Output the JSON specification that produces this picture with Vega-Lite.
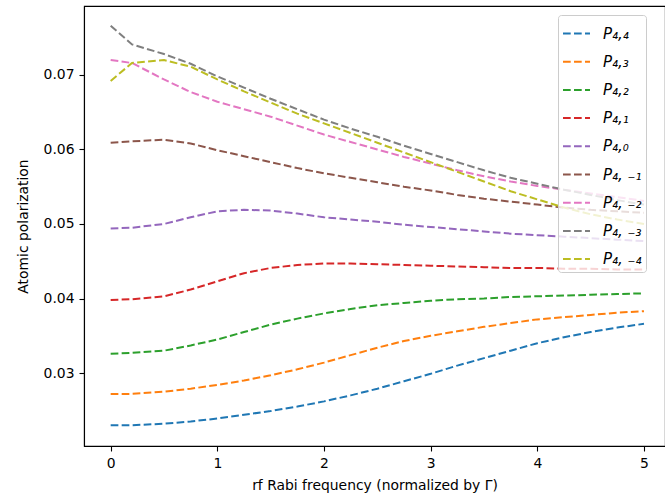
{
  "$schema": "https://vega.github.io/schema/vega-lite/v6.json",
  "width": 581,
  "height": 440,
  "autosize": {"type": "none"},
  "padding": {"left": 84, "top": 6, "right": 0, "bottom": 53},
  "background": "white",
  "config": {
    "font": "DejaVu Sans",
    "view": {"stroke": "black", "strokeWidth": 1.1},
    "axis": {
      "domainColor": "black", "domainWidth": 1.1, "tickColor": "black", "tickWidth": 1.1, "tickSize": 5,
      "labelFont": "DejaVu Sans", "labelFontSize": 13.9, "labelColor": "black", "labelPadding": 5,
      "titleFont": "DejaVu Sans", "titleFontSize": 13.9, "titleFontWeight": "normal", "titleColor": "black",
      "grid": false
    }
  },
  "data": {"values": [
    {"s":"P₄,₄","x":0,"y":0.0230},{"s":"P₄,₄","x":0.2,"y":0.0230},{"s":"P₄,₄","x":0.5,"y":0.0232},{"s":"P₄,₄","x":0.75,"y":0.0235},{"s":"P₄,₄","x":1,"y":0.0239},{"s":"P₄,₄","x":1.25,"y":0.0244},{"s":"P₄,₄","x":1.5,"y":0.0249},{"s":"P₄,₄","x":1.75,"y":0.0255},{"s":"P₄,₄","x":2,"y":0.0262},{"s":"P₄,₄","x":2.25,"y":0.0270},{"s":"P₄,₄","x":2.5,"y":0.0279},{"s":"P₄,₄","x":2.75,"y":0.0289},{"s":"P₄,₄","x":3,"y":0.0299},{"s":"P₄,₄","x":3.25,"y":0.0310},{"s":"P₄,₄","x":3.5,"y":0.0320},{"s":"P₄,₄","x":3.75,"y":0.0330},{"s":"P₄,₄","x":4,"y":0.0340},{"s":"P₄,₄","x":4.25,"y":0.0348},{"s":"P₄,₄","x":4.5,"y":0.0355},{"s":"P₄,₄","x":4.75,"y":0.0361},{"s":"P₄,₄","x":5,"y":0.0366},
    {"s":"P₄,₃","x":0,"y":0.0272},{"s":"P₄,₃","x":0.2,"y":0.0272},{"s":"P₄,₃","x":0.5,"y":0.0275},{"s":"P₄,₃","x":0.75,"y":0.0279},{"s":"P₄,₃","x":1,"y":0.0284},{"s":"P₄,₃","x":1.25,"y":0.0290},{"s":"P₄,₃","x":1.5,"y":0.0297},{"s":"P₄,₃","x":1.75,"y":0.0305},{"s":"P₄,₃","x":2,"y":0.0314},{"s":"P₄,₃","x":2.25,"y":0.0324},{"s":"P₄,₃","x":2.5,"y":0.0334},{"s":"P₄,₃","x":2.75,"y":0.0343},{"s":"P₄,₃","x":3,"y":0.0350},{"s":"P₄,₃","x":3.25,"y":0.0356},{"s":"P₄,₃","x":3.5,"y":0.0362},{"s":"P₄,₃","x":3.75,"y":0.0367},{"s":"P₄,₃","x":4,"y":0.0372},{"s":"P₄,₃","x":4.25,"y":0.0375},{"s":"P₄,₃","x":4.5,"y":0.0378},{"s":"P₄,₃","x":4.75,"y":0.0381},{"s":"P₄,₃","x":5,"y":0.0383},
    {"s":"P₄,₂","x":0,"y":0.0326},{"s":"P₄,₂","x":0.2,"y":0.0327},{"s":"P₄,₂","x":0.5,"y":0.0330},{"s":"P₄,₂","x":0.75,"y":0.0337},{"s":"P₄,₂","x":1,"y":0.0345},{"s":"P₄,₂","x":1.25,"y":0.0355},{"s":"P₄,₂","x":1.5,"y":0.0365},{"s":"P₄,₂","x":1.75,"y":0.0373},{"s":"P₄,₂","x":2,"y":0.0380},{"s":"P₄,₂","x":2.25,"y":0.0386},{"s":"P₄,₂","x":2.5,"y":0.0391},{"s":"P₄,₂","x":2.75,"y":0.0394},{"s":"P₄,₂","x":3,"y":0.0397},{"s":"P₄,₂","x":3.25,"y":0.0399},{"s":"P₄,₂","x":3.5,"y":0.0400},{"s":"P₄,₂","x":3.75,"y":0.0402},{"s":"P₄,₂","x":4,"y":0.0403},{"s":"P₄,₂","x":4.25,"y":0.0404},{"s":"P₄,₂","x":4.5,"y":0.0405},{"s":"P₄,₂","x":4.75,"y":0.0406},{"s":"P₄,₂","x":5,"y":0.0407},
    {"s":"P₄,₁","x":0,"y":0.0398},{"s":"P₄,₁","x":0.2,"y":0.0399},{"s":"P₄,₁","x":0.5,"y":0.0403},{"s":"P₄,₁","x":0.75,"y":0.0412},{"s":"P₄,₁","x":1,"y":0.0423},{"s":"P₄,₁","x":1.25,"y":0.0434},{"s":"P₄,₁","x":1.5,"y":0.0441},{"s":"P₄,₁","x":1.75,"y":0.0445},{"s":"P₄,₁","x":2,"y":0.0447},{"s":"P₄,₁","x":2.25,"y":0.0447},{"s":"P₄,₁","x":2.5,"y":0.0446},{"s":"P₄,₁","x":2.75,"y":0.0445},{"s":"P₄,₁","x":3,"y":0.0444},{"s":"P₄,₁","x":3.25,"y":0.0443},{"s":"P₄,₁","x":3.5,"y":0.0442},{"s":"P₄,₁","x":3.75,"y":0.0441},{"s":"P₄,₁","x":4,"y":0.0441},{"s":"P₄,₁","x":4.25,"y":0.0440},{"s":"P₄,₁","x":4.5,"y":0.0440},{"s":"P₄,₁","x":4.75,"y":0.0439},{"s":"P₄,₁","x":5,"y":0.0439},
    {"s":"P₄,₀","x":0,"y":0.0494},{"s":"P₄,₀","x":0.2,"y":0.0495},{"s":"P₄,₀","x":0.5,"y":0.0500},{"s":"P₄,₀","x":0.75,"y":0.0509},{"s":"P₄,₀","x":1,"y":0.0517},{"s":"P₄,₀","x":1.25,"y":0.0519},{"s":"P₄,₀","x":1.5,"y":0.0518},{"s":"P₄,₀","x":1.75,"y":0.0514},{"s":"P₄,₀","x":2,"y":0.0509},{"s":"P₄,₀","x":2.25,"y":0.0506},{"s":"P₄,₀","x":2.5,"y":0.0503},{"s":"P₄,₀","x":2.75,"y":0.0499},{"s":"P₄,₀","x":3,"y":0.0496},{"s":"P₄,₀","x":3.25,"y":0.0493},{"s":"P₄,₀","x":3.5,"y":0.0490},{"s":"P₄,₀","x":3.75,"y":0.0487},{"s":"P₄,₀","x":4,"y":0.0485},{"s":"P₄,₀","x":4.25,"y":0.0483},{"s":"P₄,₀","x":4.5,"y":0.0481},{"s":"P₄,₀","x":4.75,"y":0.0479},{"s":"P₄,₀","x":5,"y":0.0477},
    {"s":"P₄, ₋₁","x":0,"y":0.0609},{"s":"P₄, ₋₁","x":0.2,"y":0.0611},{"s":"P₄, ₋₁","x":0.5,"y":0.0613},{"s":"P₄, ₋₁","x":0.75,"y":0.0608},{"s":"P₄, ₋₁","x":1,"y":0.0599},{"s":"P₄, ₋₁","x":1.25,"y":0.0591},{"s":"P₄, ₋₁","x":1.5,"y":0.0583},{"s":"P₄, ₋₁","x":1.75,"y":0.0575},{"s":"P₄, ₋₁","x":2,"y":0.0568},{"s":"P₄, ₋₁","x":2.25,"y":0.0562},{"s":"P₄, ₋₁","x":2.5,"y":0.0556},{"s":"P₄, ₋₁","x":2.75,"y":0.0550},{"s":"P₄, ₋₁","x":3,"y":0.0545},{"s":"P₄, ₋₁","x":3.25,"y":0.0539},{"s":"P₄, ₋₁","x":3.5,"y":0.0534},{"s":"P₄, ₋₁","x":3.75,"y":0.0530},{"s":"P₄, ₋₁","x":4,"y":0.0526},{"s":"P₄, ₋₁","x":4.25,"y":0.0522},{"s":"P₄, ₋₁","x":4.5,"y":0.0519},{"s":"P₄, ₋₁","x":4.75,"y":0.0517},{"s":"P₄, ₋₁","x":5,"y":0.0515},
    {"s":"P₄, ₋₂","x":0,"y":0.0720},{"s":"P₄, ₋₂","x":0.2,"y":0.0716},{"s":"P₄, ₋₂","x":0.5,"y":0.0694},{"s":"P₄, ₋₂","x":0.75,"y":0.0677},{"s":"P₄, ₋₂","x":1,"y":0.0664},{"s":"P₄, ₋₂","x":1.25,"y":0.0654},{"s":"P₄, ₋₂","x":1.5,"y":0.0644},{"s":"P₄, ₋₂","x":1.75,"y":0.0632},{"s":"P₄, ₋₂","x":2,"y":0.0620},{"s":"P₄, ₋₂","x":2.25,"y":0.0610},{"s":"P₄, ₋₂","x":2.5,"y":0.0600},{"s":"P₄, ₋₂","x":2.75,"y":0.0590},{"s":"P₄, ₋₂","x":3,"y":0.0581},{"s":"P₄, ₋₂","x":3.25,"y":0.0572},{"s":"P₄, ₋₂","x":3.5,"y":0.0564},{"s":"P₄, ₋₂","x":3.75,"y":0.0557},{"s":"P₄, ₋₂","x":4,"y":0.0551},{"s":"P₄, ₋₂","x":4.25,"y":0.0546},{"s":"P₄, ₋₂","x":4.5,"y":0.0541},{"s":"P₄, ₋₂","x":4.75,"y":0.0536},{"s":"P₄, ₋₂","x":5,"y":0.0531},
    {"s":"P₄, ₋₃","x":0,"y":0.0766},{"s":"P₄, ₋₃","x":0.2,"y":0.0741},{"s":"P₄, ₋₃","x":0.5,"y":0.0728},{"s":"P₄, ₋₃","x":0.75,"y":0.0715},{"s":"P₄, ₋₃","x":1,"y":0.0698},{"s":"P₄, ₋₃","x":1.25,"y":0.0683},{"s":"P₄, ₋₃","x":1.5,"y":0.0668},{"s":"P₄, ₋₃","x":1.75,"y":0.0654},{"s":"P₄, ₋₃","x":2,"y":0.0640},{"s":"P₄, ₋₃","x":2.25,"y":0.0628},{"s":"P₄, ₋₃","x":2.5,"y":0.0617},{"s":"P₄, ₋₃","x":2.75,"y":0.0605},{"s":"P₄, ₋₃","x":3,"y":0.0594},{"s":"P₄, ₋₃","x":3.25,"y":0.0583},{"s":"P₄, ₋₃","x":3.5,"y":0.0572},{"s":"P₄, ₋₃","x":3.75,"y":0.0562},{"s":"P₄, ₋₃","x":4,"y":0.0554},{"s":"P₄, ₋₃","x":4.25,"y":0.0546},{"s":"P₄, ₋₃","x":4.5,"y":0.0539},{"s":"P₄, ₋₃","x":4.75,"y":0.0532},{"s":"P₄, ₋₃","x":5,"y":0.0526},
    {"s":"P₄, ₋₄","x":0,"y":0.0692},{"s":"P₄, ₋₄","x":0.2,"y":0.0716},{"s":"P₄, ₋₄","x":0.5,"y":0.0720},{"s":"P₄, ₋₄","x":0.75,"y":0.0711},{"s":"P₄, ₋₄","x":1,"y":0.0694},{"s":"P₄, ₋₄","x":1.25,"y":0.0678},{"s":"P₄, ₋₄","x":1.5,"y":0.0663},{"s":"P₄, ₋₄","x":1.75,"y":0.0648},{"s":"P₄, ₋₄","x":2,"y":0.0635},{"s":"P₄, ₋₄","x":2.25,"y":0.0622},{"s":"P₄, ₋₄","x":2.5,"y":0.0609},{"s":"P₄, ₋₄","x":2.75,"y":0.0596},{"s":"P₄, ₋₄","x":3,"y":0.0583},{"s":"P₄, ₋₄","x":3.25,"y":0.0570},{"s":"P₄, ₋₄","x":3.5,"y":0.0557},{"s":"P₄, ₋₄","x":3.75,"y":0.0544},{"s":"P₄, ₋₄","x":4,"y":0.0533},{"s":"P₄, ₋₄","x":4.25,"y":0.0522},{"s":"P₄, ₋₄","x":4.5,"y":0.0513},{"s":"P₄, ₋₄","x":4.75,"y":0.0506},{"s":"P₄, ₋₄","x":5,"y":0.0500}
  ]},
  "mark": {"type": "line", "strokeWidth": 2, "strokeDash": [7.7, 3.3], "clip": true},
  "encoding": {
    "x": {
      "field": "x", "type": "quantitative",
      "scale": {"domain": [-0.25, 5.197], "nice": false, "zero": false},
      "axis": {"values": [0, 1, 2, 3, 4, 5], "format": "d", "title": "rf Rabi frequency (normalized by Γ)", "titlePadding": 9}
    },
    "y": {
      "field": "y", "type": "quantitative",
      "scale": {"domain": [0.02021, 0.07925], "nice": false, "zero": false},
      "axis": {"values": [0.03, 0.04, 0.05, 0.06, 0.07], "format": ".2f", "title": "Atomic polarization", "titlePadding": 13}
    },
    "color": {
      "field": "s", "type": "nominal",
      "scale": {
        "domain": ["P₄,₄", "P₄,₃", "P₄,₂", "P₄,₁", "P₄,₀", "P₄, ₋₁", "P₄, ₋₂", "P₄, ₋₃", "P₄, ₋₄"],
        "range": ["#1f77b4", "#ff7f0e", "#2ca02c", "#d62728", "#9467bd", "#8c564b", "#e377c2", "#7f7f7f", "#bcbd22"]
      },
      "legend": {
        "title": null, "orient": "none", "legendX": 474, "legendY": 9,
        "symbolType": "stroke", "symbolSize": 729, "symbolStrokeWidth": 2, "symbolDash": [7.7, 3.3],
        "labelFont": "DejaVu Sans", "labelFontSize": 15, "labelFontStyle": "italic", "labelColor": "black", "labelOffset": 12,
        "rowPadding": 5.2, "padding": 4, "fillColor": "rgba(255,255,255,0.8)", "strokeColor": "#cccccc", "cornerRadius": 3
      }
    }
  }
}
